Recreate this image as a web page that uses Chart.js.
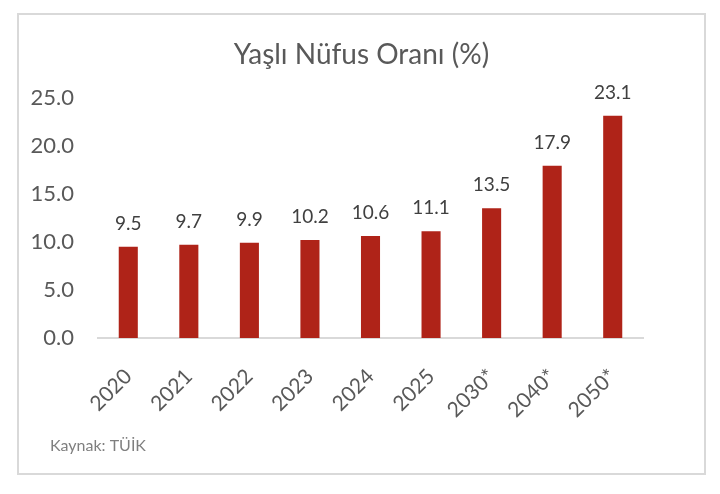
<!DOCTYPE html>
<html>
<head>
<meta charset="utf-8">
<script src="https://cdn.jsdelivr.net/npm/chart.js@4/dist/chart.umd.min.js"></script>
<style>
  body { margin: 0; background: #fff; }
  #box {
    position: absolute;
    left: 17px;
    top: 13px;
    width: 689px;
    height: 462px;
    border: 2px solid #d9d9d9;
    box-sizing: border-box;
  }
</style>
</head>
<body>
<div id="box"><canvas id="chart"></canvas></div>
<script>
const years = ["2020", "2021", "2022", "2023", "2024", "2025", "2030*", "2040*", "2050*"];
const ratios = [9.5, 9.7, 9.9, 10.2, 10.6, 11.1, 13.5, 17.9, 23.1];
const yTicks = [0, 5, 10, 15, 20, 25];
const source = "Kaynak: TÜİK";

const FONT = "Lato, 'Open Sans', sans-serif";

// value labels over each bar + the source line at the bottom
const barLabels = {
  id: "barLabels",
  afterDatasetsDraw(chart) {
    const ctx = chart.ctx;
    const meta = chart.getDatasetMeta(0);
    ctx.save();
    ctx.font = "19px " + FONT;
    ctx.fillStyle = "#404040";
    ctx.textAlign = "center";
    ctx.textBaseline = "alphabetic";
    meta.data.forEach((bar, i) => {
      ctx.fillText(ratios[i].toFixed(1), bar.x, bar.y - 17);
    });
    ctx.font = "16px " + FONT;
    ctx.fillStyle = "#7f7f7f";
    ctx.textAlign = "left";
    ctx.textBaseline = "alphabetic";
    ctx.fillText(source, 31, 436);
    ctx.restore();
  },
};

new Chart(document.getElementById("chart"), {
  type: "bar",
  data: {
    labels: years,
    datasets: [
      {
        data: ratios,
        backgroundColor: "#AF2318",
        barPercentage: 0.63,
        categoryPercentage: 0.5,
      },
    ],
  },
  options: {
    responsive: true,
    maintainAspectRatio: false,
    animation: false,
    layout: {
      padding: 0,
    },
    plugins: {
      legend: { display: false },
      tooltip: { enabled: false },
      title: {
        display: true,
        text: "Yaşlı Nüfus Oranı (%)",
        color: "#595959",
        font: { family: FONT, size: 28, weight: "normal" },
        padding: { top: 23, bottom: 26 },
      },
    },
    scales: {
      x: {
        afterFit(axis) {
          axis.paddingLeft = 0;
          axis.paddingRight = 61;
          axis.height = 135;
        },
        grid: { display: false },
        border: { display: true, color: "#d9d9d9", width: 2 },
        ticks: {
          color: "#595959",
          font: { family: FONT, size: 21 },
          maxRotation: 45,
          minRotation: 45,
          padding: 18,
        },
      },
      y: {
        min: 0,
        max: 25,
        afterBuildTicks(axis) {
          axis.ticks = yTicks.map((v) => ({ value: v }));
        },
        afterFit(axis) {
          axis.width = 79;
        },
        grid: { display: false },
        border: { display: false },
        ticks: {
          color: "#595959",
          font: { family: FONT, size: 22 },
          padding: 16,
          callback: (v) => Number(v).toFixed(1),
        },
      },
    },
  },
  plugins: [barLabels],
});
</script>
</body>
</html>
